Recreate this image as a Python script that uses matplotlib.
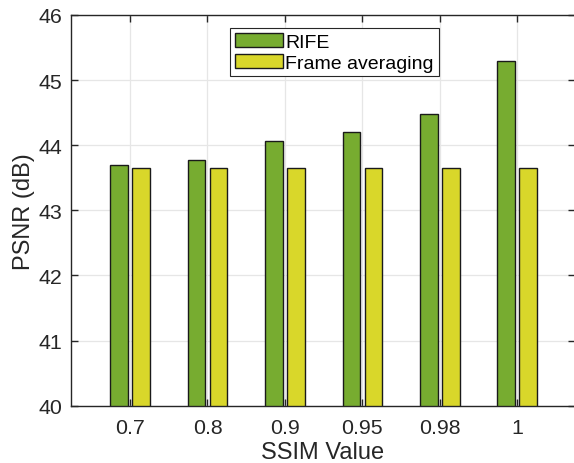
import matplotlib
matplotlib.use("Agg")
import matplotlib.pyplot as plt
import numpy as np

plt.rcParams['font.family'] = ['Liberation Sans', 'DejaVu Sans']

categories = ['0.7', '0.8', '0.9', '0.95', '0.98', '1']
rife = [43.69, 43.78, 44.07, 44.21, 44.48, 45.30]
frame_avg = [43.65, 43.65, 43.65, 43.65, 43.65, 43.65]
series_names = ['RIFE', 'Frame averaging']

W, H = 574, 464
fig = plt.figure(figsize=(W / 100, H / 100), dpi=100)
ax = fig.add_axes([71 / W, (H - 406.7) / H, (575 - 71) / W, (406.7 - 16) / H])

x = np.arange(len(categories))
bw = 0.229
off = 0.142
green = '#77AC30'
yellow = '#D9D72A'
ax.bar(x - off, rife, bw, color=green, edgecolor='#1a1a1a', linewidth=1.0, label=series_names[0], zorder=2)
ax.bar(x + off, frame_avg, bw, color=yellow, edgecolor='#1a1a1a', linewidth=1.0, label=series_names[1], zorder=2)

ax.set_ylim(40, 46)
ax.set_xlim(-0.762, 5.745)
ax.set_xticks(x)
ax.set_xticklabels(categories)
ax.set_yticks(np.arange(40, 47, 1))

ax.grid(True, color='#e6e6e6', linewidth=0.9)
ax.set_axisbelow(True)

for s in ax.spines.values():
    s.set_color('#262626')
    s.set_linewidth(1.0)
    s.set_zorder(3)
ax.tick_params(direction='in', length=5, width=1.0, color='#262626', labelcolor='#262626',
               labelsize=15.4, top=True, right=True)
ax.tick_params(axis='x', pad=9)
ax.tick_params(axis='y', pad=6)

ax.set_xlabel('SSIM Value', fontsize=17, color='#262626', labelpad=3)
ax.set_ylabel('PSNR (dB)', fontsize=17, color='#262626', labelpad=3)

leg = ax.legend(loc='upper left', bbox_to_anchor=(230 / W, 1 - 29 / H), bbox_transform=fig.transFigure,
                fontsize=14, frameon=True, fancybox=False, framealpha=1, edgecolor='#262626',
                borderaxespad=0, borderpad=0.25, handlelength=2.45, handleheight=0.75,
                handletextpad=0.15, labelspacing=0.15)
leg.get_frame().set_linewidth(0.8)

fig.savefig('out.png', dpi=100)
